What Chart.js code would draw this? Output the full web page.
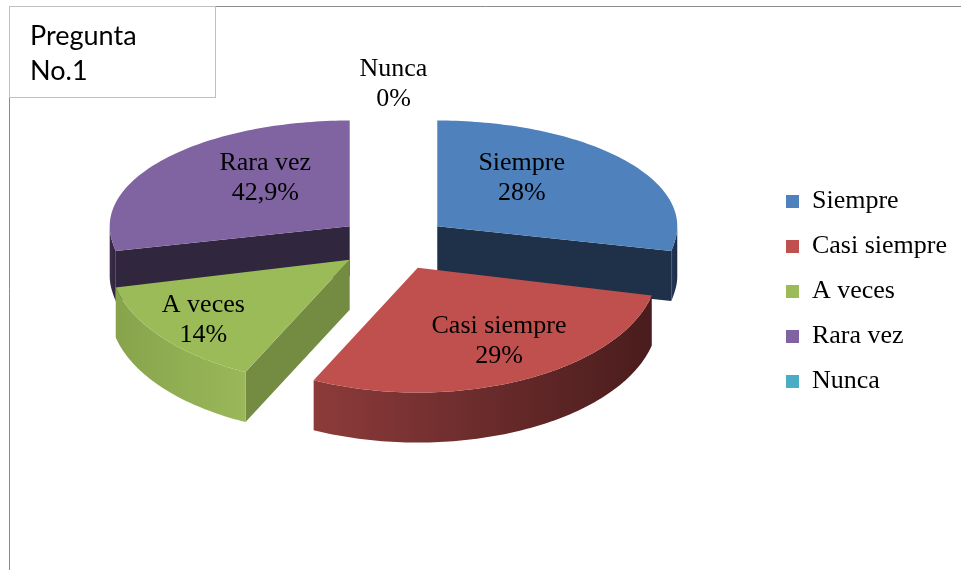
<!DOCTYPE html>
<html>
<head>
<meta charset="utf-8">
<script src="https://cdn.jsdelivr.net/npm/chart.js@4.4.0/dist/chart.umd.min.js"></script>
<style>
  html, body { margin: 0; padding: 0; background: #fff; }
  .fontprobe { position: absolute; left: -1000px; top: -1000px; font-size: 26px; }
</style>
</head>
<body>
<span class="fontprobe" style="font-family:'Liberation Serif'">Siempre</span>
<span class="fontprobe" style="font-family:Lato">Pregunta</span>
<canvas id="chart" width="961" height="570"></canvas>
<script>
// data
const categories = ['Siempre', 'Casi siempre', 'A veces', 'Rara vez', 'Nunca'];
const counts = [2, 2, 1, 2, 0];
const pctLabels = ['28%', '29%', '14%', '42,9%', '0%'];

// colours
const topColors = ['#4F81BD', '#C0504D', '#9BBB59', '#8064A2', '#4BACC6'];
const cutColors = ['#1F3149', '#5A2322', '#738C41', '#30263D', '#21566A'];
const wallColors = [
    ['#25395A', '#1C2C44'],
    ['#8C3B3A', '#4A1C1D'],
    ['#87A44C', '#9AB859'],
    ['#3A2D4A', '#30263D'],
    ['#2F7C92', '#21566A']
];

// fake 3D look
const K_BACK = 0.44;
const K_FRONT = 0.52;
const DEPTH = 50;
const serif = "'Liberation Serif', 'Times New Roman', Tinos, 'DejaVu Serif', serif";

function proj(g, dx, dy, lift) {
    return [g.cx + dx, g.cy - DEPTH + dy * (dy < 0 ? K_BACK : K_FRONT) + lift];
}

function arcPts(g, a0, a1, lift) {
    const pts = [];
    const n = Math.max(2, Math.ceil(Math.abs(a1 - a0) / 0.02));
    for (let i = 0; i <= n; i++) {
        const t = a0 + (a1 - a0) * i / n;
        pts.push(proj(g, g.ox + g.r * Math.cos(t), g.oy + g.r * Math.sin(t), lift));
    }
    return pts;
}

function fillPoly(ctx, pts, style) {
    ctx.beginPath();
    ctx.moveTo(pts[0][0], pts[0][1]);
    for (let i = 1; i < pts.length; i++) ctx.lineTo(pts[i][0], pts[i][1]);
    ctx.closePath();
    ctx.fillStyle = style;
    ctx.fill();
}

function radialWall(ctx, g, t, color) {
    const a = proj(g, g.ox, g.oy, 0);
    const e = proj(g, g.ox + g.r * Math.cos(t), g.oy + g.r * Math.sin(t), 0);
    fillPoly(ctx, [a, e, [e[0], e[1] + DEPTH], [a[0], a[1] + DEPTH]], color);
}

const pie3d = {
    id: 'pie3d',
    beforeDatasetsDraw(chart) {
        const ctx = chart.ctx;
        const meta = chart.getDatasetMeta(0);
        const geoms = meta.data.map((arc, i) => {
            const p = arc.getProps(['x', 'y', 'startAngle', 'endAngle', 'outerRadius'], true);
            const mid = (p.startAngle + p.endAngle) / 2;
            const off = arc.options.offset;
            return {
                i, cx: p.x, cy: p.y, r: p.outerRadius,
                start: p.startAngle, end: p.endAngle, mid,
                ox: Math.cos(mid) * off, oy: Math.sin(mid) * off
            };
        });

        const order = geoms.slice().sort((a, b) => Math.sin(a.mid) - Math.sin(b.mid));
        ctx.save();
        order.forEach(g => {
            if (g.end - g.start <= 0) return;
            // cut faces
            if (Math.cos(g.start) < -0.01) radialWall(ctx, g, g.start, cutColors[g.i]);
            if (Math.cos(g.end) > 0.01) radialWall(ctx, g, g.end, cutColors[g.i]);
            // outer wall on the front half
            const w0 = Math.max(g.start, 0), w1 = Math.min(g.end, Math.PI);
            if (w1 > w0) {
                const topPts = arcPts(g, w0, w1, 0);
                const botPts = arcPts(g, w1, w0, DEPTH);
                const xs = topPts.map(p => p[0]);
                const grad = ctx.createLinearGradient(Math.min(...xs), 0, Math.max(...xs), 0);
                grad.addColorStop(0, wallColors[g.i][0]);
                grad.addColorStop(1, wallColors[g.i][1]);
                fillPoly(ctx, topPts.concat(botPts), grad);
            }
            // top face
            const top = [proj(g, g.ox, g.oy, 0)].concat(arcPts(g, g.start, g.end, 0));
            fillPoly(ctx, top, topColors[g.i]);
        });

        // data labels
        ctx.font = '26px ' + serif;
        ctx.fillStyle = '#000';
        ctx.textAlign = 'center';
        ctx.textBaseline = 'middle';
        geoms.forEach(g => {
            const front = Math.sin(g.mid) > 0;
            let f, lift;
            if (g.end - g.start <= 0) { f = 1.1; lift = -17; }
            else if (front) { f = 0.78; lift = -9 - 11 * Math.cos(g.mid); }
            else { f = 0.45; lift = -18; }
            const d = Math.hypot(g.ox, g.oy) + g.r * f;
            const p = proj(g, Math.cos(g.mid) * d, Math.sin(g.mid) * d, lift);
            ctx.fillText(categories[g.i], p[0], p[1] - 15);
            ctx.fillText(pctLabels[g.i], p[0], p[1] + 15);
        });
        ctx.restore();
        return false;
    },
    afterDraw(chart) {
        const ctx = chart.ctx;
        ctx.save();
        ctx.lineWidth = 1;
        ctx.strokeStyle = '#8C8C8C';
        ctx.beginPath();
        ctx.moveTo(9.5, 570);
        ctx.lineTo(9.5, 6.5);
        ctx.lineTo(961, 6.5);
        ctx.stroke();
        ctx.fillStyle = '#fff';
        ctx.fillRect(9.5, 6.5, 206, 91);
        ctx.strokeStyle = '#BFBFBF';
        ctx.strokeRect(9.5, 6.5, 206, 91);
        ctx.fillStyle = '#000';
        ctx.font = "27px Lato, 'Open Sans', sans-serif";
        ctx.textAlign = 'left';
        ctx.textBaseline = 'alphabetic';
        ctx.fillText('Pregunta', 30, 45);
        ctx.fillText('No.1', 30, 80);
        ctx.restore();
    }
};

function makeChart() {
    const ctx = document.getElementById('chart').getContext('2d');
    return new Chart(ctx, {
        type: 'pie',
        data: {
            labels: categories,
            datasets: [{
                data: counts,
                backgroundColor: topColors,
                borderWidth: 0,
                offset: 56,
                radius: 240
            }]
        },
        options: {
            responsive: false,
            animation: false,
            events: [],
            layout: { padding: { left: 20, top: 13, right: 4, bottom: 0 } },
            plugins: {
                legend: {
                    position: 'right',
                    labels: {
                        color: '#000',
                        font: { family: serif, size: 26 },
                        boxWidth: 13,
                        boxHeight: 13,
                        padding: 19
                    }
                },
                tooltip: { enabled: false }
            }
        },
        plugins: [pie3d]
    });
}

Promise.all([
    document.fonts.load("26px 'Liberation Serif'"),
    document.fonts.load('27px Lato')
]).catch(() => {}).then(makeChart);
</script>
</body>
</html>
